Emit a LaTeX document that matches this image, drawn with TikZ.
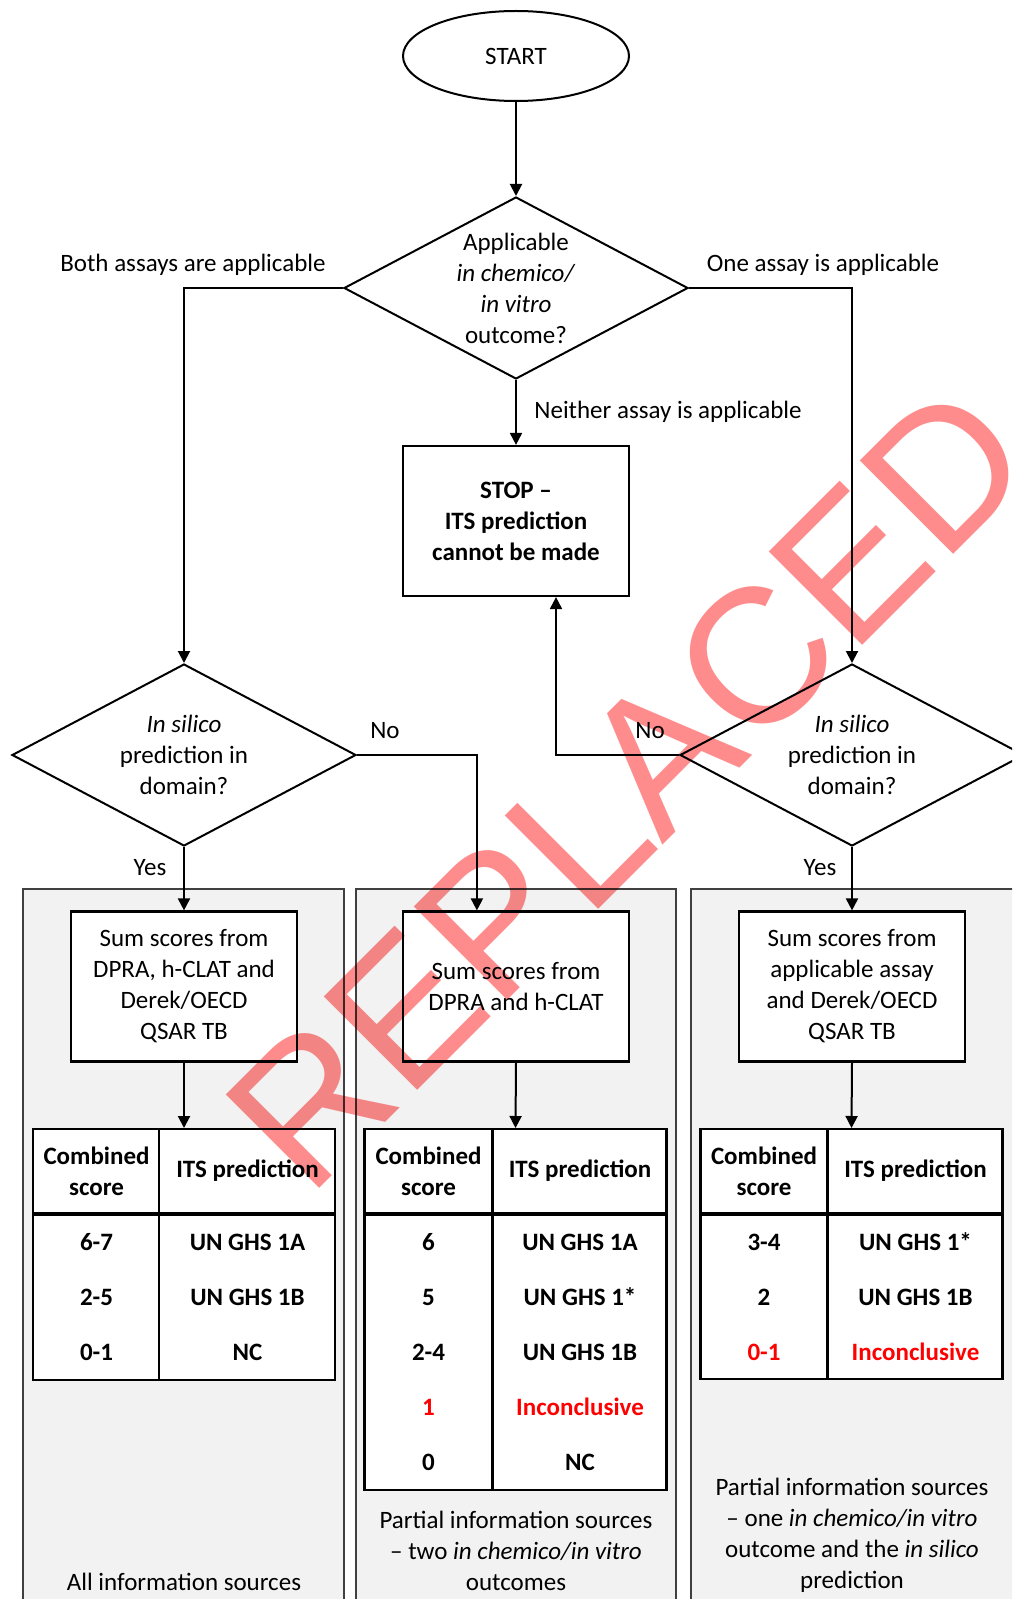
\documentclass[tikz,border=0pt]{standalone}
\usepackage{fontspec}
\setmainfont{Carlito}
\newfontfamily\wmfont{Liberation Sans}
\usetikzlibrary{arrows.meta,positioning,shapes.geometric,calc}
\definecolor{panelfill}{RGB}{242,242,242}
\definecolor{paneledge}{RGB}{64,64,64}
\definecolor{wmred}{RGB}{255,0,0}
\newcommand{\fs}{\fontsize{12.5}{15.5}\selectfont}

\begin{document}
\begin{tikzpicture}[x=0.5pt,y=-0.5pt,
    every node/.style={font=\fs,align=center,inner sep=0pt},
    flow/.style={line width=1pt,-{Triangle[length=6pt,width=6pt]}},
    term/.style={draw,ellipse,line width=1pt,minimum width=113pt,minimum height=45pt},
    dec/.style={draw,diamond,line width=1pt,minimum width=172pt,minimum height=91pt},
    proc/.style={draw,fill=white,line width=1.1pt,minimum width=113pt,minimum height=75pt},
    panel/.style={draw=paneledge,fill=panelfill,line width=0.8pt},
    tab/.style={draw,fill=white,line width=1.1pt,minimum width=151pt,anchor=north},
    tline/.style={line width=1.1pt},
    hline/.style={line width=1.7pt},
    cell/.style={font=\fs\bfseries}]

  \useasboundingbox (0,0) rectangle (1012,1599);
  \clip (0,0) rectangle (1012,1599);

  %% Panels (background)
  \draw[panel] (23,889) rectangle (344,1640);
  \draw[panel] (356,889) rectangle (676,1640);
  \draw[panel] (691,889) rectangle (1040,1640);

  %% Top part
  \node[term] (start) at (516,56) {START};
  \node[dec] (qa) at (516,288) {};
  \node (qatext) at (qa) {Applicable\\\textit{in chemico/}\\\textit{in vitro}\\outcome?};
  \node[proc,font=\fs\bfseries] (stop) at (516,521)
        {STOP –\\ITS prediction\\cannot be made};

  \node (both) at (193,265) {Both assays are applicable};
  \node (one) at (823,265) {One assay is applicable};
  \node[anchor=west] (neither) at (534,412) {Neither assay is applicable};

  %% In silico decisions
  \node[dec] (qb) at (184,755) {};
  \node (qbtext) at (qb) {\textit{In silico}\\prediction in\\domain?};
  \node[dec] (qc) at (852,755) {};
  \node (qctext) at (qc) {\textit{In silico}\\prediction in\\domain?};

  \node (noa) at (385,731) {No};
  \node (nob) at (650,731) {No};
  \node (yesa) at (150,868) {Yes};
  \node (yesb) at (820,868) {Yes};

  %% Sum boxes
  \node[proc] (suma) at (184,986.5)
        {Sum scores from\\DPRA, h-CLAT and\\Derek/OECD\\QSAR TB};
  \node[proc] (sumb) at (516,986.5)
        {Sum scores from\\DPRA and h-CLAT};
  \node[proc] (sumc) at (852,986.5)
        {Sum scores from\\applicable assay\\and Derek/OECD\\QSAR TB};

  %% Connectors
  \draw[flow] (start.south) -- (qa.north);
  \draw[flow] (qa.west) -| (qb.north);
  \draw[flow] (qa.east) -| (qc.north);
  \draw[flow] (qa.south) -- (stop.north);
  \draw[flow] (qb.east) -| ([xshift=37.5pt]sumb.north west);
  \draw[flow] (qc.west) -| ([xshift=20pt]stop.south);
  \draw[flow] (qb.south) -- (suma.north);
  \draw[flow] (qc.south) -- (sumc.north);

  %% Table 1: all sources
  \node[tab,minimum height=125.5pt] (taba) at (184,1128) {};
  \draw[tline] ([xshift=63.5pt]taba.north west) -- ([xshift=63.5pt]taba.south west);
  \draw[hline] ([yshift=-43pt]taba.north west) -- ([yshift=-43pt]taba.north east);
  \node[cell] (ha1) at (96.5,1171) {Combined\\score};
  \node[cell] (ha2) at (247.5,1171) {ITS prediction};
  \node[cell] (sa1) at (96.5,1242) {6-7};
  \node[cell] (pa1) at (247.5,1242) {UN GHS 1A};
  \node[cell] (sa2) at (96.5,1297) {2-5};
  \node[cell] (pa2) at (247.5,1297) {UN GHS 1B};
  \node[cell] (sa3) at (96.5,1352) {0-1};
  \node[cell] (pa3) at (247.5,1352) {NC};

  %% Table 2: two assays
  \node[tab,minimum height=180.5pt] (tabb) at (515.5,1128) {};
  \draw[tline] ([xshift=64.5pt]tabb.north west) -- ([xshift=64.5pt]tabb.south west);
  \draw[hline] ([yshift=-43pt]tabb.north west) -- ([yshift=-43pt]tabb.north east);
  \node[cell] (hb1) at (428.5,1171) {Combined\\score};
  \node[cell] (hb2) at (580,1171) {ITS prediction};
  \node[cell] (sb1) at (428.5,1242) {6};
  \node[cell] (pb1) at (580,1242) {UN GHS 1A};
  \node[cell] (sb2) at (428.5,1297) {5};
  \node[cell] (pb2) at (580,1297) {UN GHS 1*};
  \node[cell] (sb3) at (428.5,1352) {2-4};
  \node[cell] (pb3) at (580,1352) {UN GHS 1B};
  \node[cell,text=red] (sb4) at (428.5,1407) {1};
  \node[cell,text=red] (pb4) at (580,1407) {Inconclusive};
  \node[cell] (sb5) at (428.5,1462) {0};
  \node[cell] (pb5) at (580,1462) {NC};

  %% Table 3: one assay
  \node[tab,minimum height=125pt] (tabc) at (851.5,1128) {};
  \draw[tline] ([xshift=64pt]tabc.north west) -- ([xshift=64pt]tabc.south west);
  \draw[hline] ([yshift=-43pt]tabc.north west) -- ([yshift=-43pt]tabc.north east);
  \node[cell] (hc1) at (764,1171) {Combined\\score};
  \node[cell] (hc2) at (915.5,1171) {ITS prediction};
  \node[cell] (sc1) at (764,1242) {3-4};
  \node[cell] (pc1) at (915.5,1242) {UN GHS 1*};
  \node[cell] (sc2) at (764,1297) {2};
  \node[cell] (pc2) at (915.5,1297) {UN GHS 1B};
  \node[cell,text=red] (sc3) at (764,1352) {0-1};
  \node[cell,text=red] (pc3) at (915.5,1352) {Inconclusive};

  \draw[flow] (suma.south) -- (taba.north);
  \draw[flow] (sumb.south) -- (tabb.north);
  \draw[flow] (sumc.south) -- (tabc.north);

  %% Panel captions
  \node (capa) at (184,1582) {All information sources};
  \node (capb) at (516,1551)
        {Partial information sources\\– two \textit{in chemico/in vitro}\\outcomes};
  \node (capc) at (852,1535.5)
        {Partial information sources\\– one \textit{in chemico/in vitro}\\outcome and the \textit{in silico}\\prediction};

  %% Stamp
  \begin{scope}[blend mode=multiply]
    \node[font=\wmfont\fontsize{96}{96}\selectfont,text=wmred,text opacity=0.45,
          rotate=45,anchor=base west] (stamp) at (308,1200) {REPLACED};
  \end{scope}
\end{tikzpicture}
\end{document}
